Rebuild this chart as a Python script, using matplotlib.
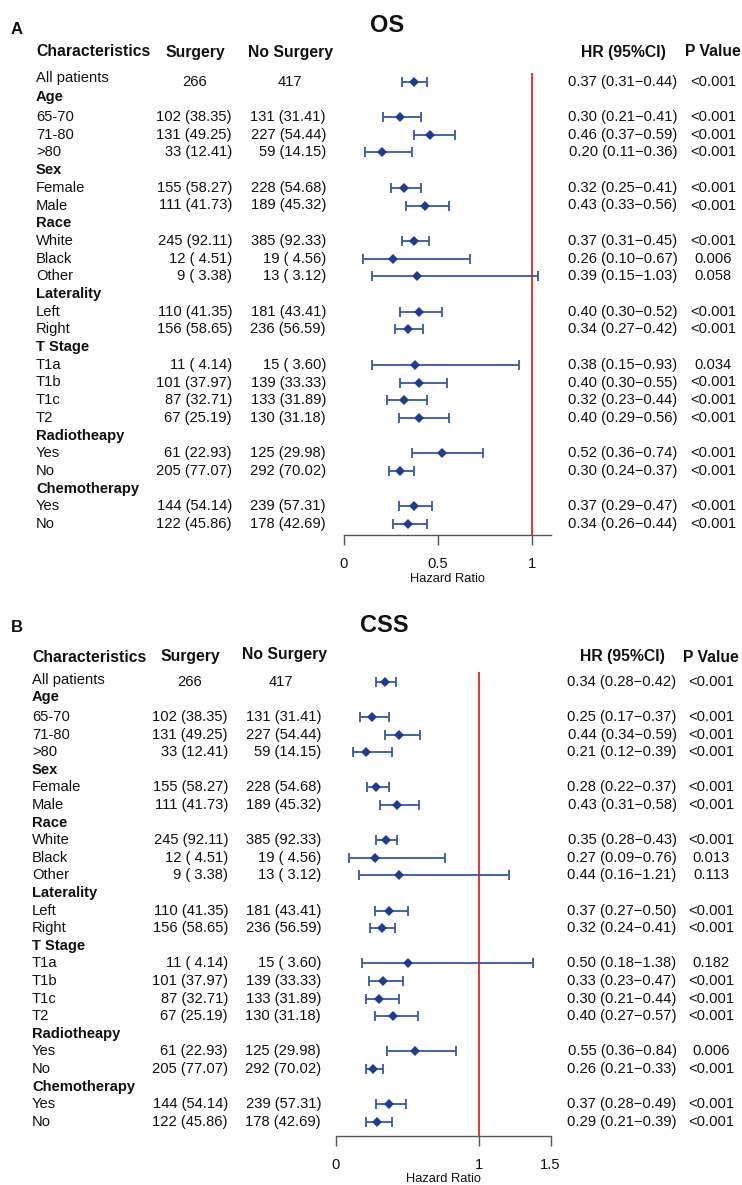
import matplotlib
matplotlib.use("Agg")
import matplotlib.pyplot as plt

plt.rcParams["font.family"] = ["Liberation Sans", "DejaVu Sans"]

# ---------------------------------------------------------------- data
groups = ["Age", "Sex", "Race", "Laterality", "T Stage", "Radiotheapy", "Chemotherapy"]
subgroups = [["65-70", "71-80", ">80"], ["Female", "Male"], ["White", "Black", "Other"],
             ["Left", "Right"], ["T1a", "T1b", "T1c", "T2"], ["Yes", "No"], ["Yes", "No"]]

total_surgery = 266
total_no_surgery = 417
surgery_n = [102, 131, 33, 155, 111, 245, 12, 9, 110, 156, 11, 101, 87, 67, 61, 205, 144, 122]
surgery_pct = [38.35, 49.25, 12.41, 58.27, 41.73, 92.11, 4.51, 3.38, 41.35, 58.65,
               4.14, 37.97, 32.71, 25.19, 22.93, 77.07, 54.14, 45.86]
no_surgery_n = [131, 227, 59, 228, 189, 385, 19, 13, 181, 236, 15, 139, 133, 130, 125, 292, 239, 178]
no_surgery_pct = [31.41, 54.44, 14.15, 54.68, 45.32, 92.33, 4.56, 3.12, 43.41, 56.59,
                  3.60, 33.33, 31.89, 31.18, 29.98, 70.02, 57.31, 42.69]

# first entry of each list is "All patients"
os_hr = [0.37, 0.30, 0.46, 0.20, 0.32, 0.43, 0.37, 0.26, 0.39, 0.40, 0.34,
         0.38, 0.40, 0.32, 0.40, 0.52, 0.30, 0.37, 0.34]
os_lo = [0.31, 0.21, 0.37, 0.11, 0.25, 0.33, 0.31, 0.10, 0.15, 0.30, 0.27,
         0.15, 0.30, 0.23, 0.29, 0.36, 0.24, 0.29, 0.26]
os_hi = [0.44, 0.41, 0.59, 0.36, 0.41, 0.56, 0.45, 0.67, 1.03, 0.52, 0.42,
         0.93, 0.55, 0.44, 0.56, 0.74, 0.37, 0.47, 0.44]
os_p = ["<0.001", "<0.001", "<0.001", "<0.001", "<0.001", "<0.001", "<0.001", "0.006", "0.058",
        "<0.001", "<0.001", "0.034", "<0.001", "<0.001", "<0.001", "<0.001", "<0.001", "<0.001", "<0.001"]

css_hr = [0.34, 0.25, 0.44, 0.21, 0.28, 0.43, 0.35, 0.27, 0.44, 0.37, 0.32,
          0.50, 0.33, 0.30, 0.40, 0.55, 0.26, 0.37, 0.29]
css_lo = [0.28, 0.17, 0.34, 0.12, 0.22, 0.31, 0.28, 0.09, 0.16, 0.27, 0.24,
          0.18, 0.23, 0.21, 0.27, 0.36, 0.21, 0.28, 0.21]
css_hi = [0.42, 0.37, 0.59, 0.39, 0.37, 0.58, 0.43, 0.76, 1.21, 0.50, 0.41,
          1.38, 0.47, 0.44, 0.57, 0.84, 0.33, 0.49, 0.39]
css_p = ["<0.001", "<0.001", "<0.001", "<0.001", "<0.001", "<0.001", "<0.001", "0.013", "0.113",
         "<0.001", "<0.001", "0.182", "<0.001", "<0.001", "<0.001", "0.006", "<0.001", "<0.001", "<0.001"]

os_ticks = [0, 0.5, 1]
css_ticks = [0, 1, 1.5]

# ---------------------------------------------------------------- style
W, H = 742, 1185
TXT = "#111111"
DIAMOND = "#1d3d95"
WHISKER = "#3656aa"
REF = "#e0262c"
AXIS = "#555555"
FS = 10.6

fig = plt.figure(figsize=(W / 100, H / 100), dpi=100)
canvas = fig.add_axes([0, 0, 1, 1])
canvas.set_xlim(0, W)
canvas.set_ylim(H, 0)
canvas.axis("off")


def px_axes(left, top, right, bottom):
    return fig.add_axes([left / W, 1 - bottom / H, (right - left) / W, (bottom - top) / H])


def fmt_count(n, pct):
    return f"{n} ({pct:5.2f})"


def panel(letter, title, hr, lo, hi, pvals, ticks, xmax, L):
    t = lambda x, y, s, **kw: canvas.text(x, y, s, color=TXT, **kw)
    t(L["letter_x"], L["letter_y"], letter, fontsize=12, fontweight="bold", ha="left", va="center")
    t(L["title_x"], L["title_y"], title, fontsize=17, fontweight="bold", ha="center", va="center")

    hy = L["head_y"]
    t(L["char_x"], hy, "Characteristics", fontsize=11.3, fontweight="bold", ha="left", va="center")
    t(L["surg_c"], hy, "Surgery", fontsize=11.3, fontweight="bold", ha="center", va="center")
    t(L["nos_c"], hy + L["nos_dy"], "No Surgery", fontsize=11.3, fontweight="bold", ha="center", va="center")
    t(L["hr_c"], hy, "HR (95%CI)", fontsize=11.3, fontweight="bold", ha="center", va="center")
    t(L["p_c"], hy, "P Value", fontsize=11.3, fontweight="bold", ha="center", va="center")

    # row positions (pixels) for the data rows, in data order
    row_y = [L["all_y"]]
    header_y = []
    r = 0
    for g, subs in enumerate(subgroups):
        header_y.append(L["first_header_y"] if g == 0 else L["row0"] + (r - 1) * L["step"])
        r += 1
        for _ in subs:
            row_y.append(L["row0"] + (r - 1) * L["step"])
            r += 1

    # left table
    t(L["char_x"], L["all_label_y"], "All patients", fontsize=FS, ha="left", va="center")
    t(L["surg_c"], L["all_y"], str(total_surgery), fontsize=FS, ha="center", va="center")
    t(L["nos_c2"], L["all_y"], str(total_no_surgery), fontsize=FS, ha="center", va="center")
    for g, name in enumerate(groups):
        t(L["char_x"], header_y[g], name, fontsize=FS, fontweight="bold", ha="left", va="center")
    labels = [s for subs in subgroups for s in subs]
    for i, lab in enumerate(labels):
        y = row_y[i + 1]
        t(L["char_x"], y, lab, fontsize=FS, ha="left", va="center")
        t(L["surg_r"], y, fmt_count(surgery_n[i], surgery_pct[i]), fontsize=FS, ha="right", va="center")
        t(L["nos_r"], y, fmt_count(no_surgery_n[i], no_surgery_pct[i]), fontsize=FS, ha="right", va="center")

    # right table
    for i, y in enumerate(row_y):
        t(L["hr_c"], y, f"{hr[i]:.2f} ({lo[i]:.2f}\u2212{hi[i]:.2f})", fontsize=FS, ha="center", va="center")
        t(L["p_c"], y, pvals[i], fontsize=FS, ha="center", va="center")

    # forest plot
    x0, scale = L["x0"], L["scale"]
    ax = px_axes(x0, L["ax_top"], x0 + xmax * scale, L["ax_bottom"])
    ax.set_xlim(0, xmax)
    ax.set_ylim(L["ax_bottom"], L["ax_top"])
    ax.patch.set_alpha(0)
    for s in ("top", "right", "left"):
        ax.spines[s].set_visible(False)
    ax.spines["bottom"].set_color(AXIS)
    ax.spines["bottom"].set_linewidth(1.0)
    ax.set_yticks([])
    ax.set_xticks(ticks)
    ax.set_xticklabels([f"{v:g}" for v in ticks])
    ax.tick_params(axis="x", direction="out", length=7, width=1.0, color=AXIS,
                   labelsize=FS, labelcolor=TXT, pad=9)

    ax.vlines(1, L["ref_top"], L["ax_bottom"], color=REF, lw=1.3, zorder=1)
    ax.errorbar(hr, row_y, xerr=[[h - l for h, l in zip(hr, lo)], [u - h for h, u in zip(hr, hi)]],
                fmt="none", ecolor=WHISKER, elinewidth=1.3, capsize=3.8, capthick=1.3, zorder=2)
    ax.plot(hr, row_y, "D", color=DIAMOND, ms=5.6, mew=0, zorder=3)

    canvas.text(x0 + xmax * scale / 2, L["hr_label_y"], "Hazard Ratio", fontsize=9.3,
                color=TXT, ha="center", va="center")


os_layout = dict(letter_x=11, letter_y=30, title_x=387, title_y=25, head_y=52, nos_dy=0,
                 char_x=36, surg_c=195, nos_c=290, nos_c2=290, surg_r=232, nos_r=326,
                 hr_c=623, p_c=713, all_y=82, all_label_y=78, first_header_y=97,
                 row0=117, step=17.7, x0=344, scale=188, ax_top=60, ax_bottom=535,
                 ref_top=73, hr_label_y=579)
css_layout = dict(letter_x=11, letter_y=628, title_x=384, title_y=625, head_y=657, nos_dy=-2,
                  char_x=32, surg_c=190, nos_c=284, nos_c2=281, surg_r=228, nos_r=321,
                  hr_c=622, p_c=711, all_y=682, all_label_y=680, first_header_y=697,
                  row0=717, step=17.6, x0=336, scale=143, ax_top=660, ax_bottom=1136,
                  ref_top=672, hr_label_y=1179)

panel("A", "OS", os_hr, os_lo, os_hi, os_p, os_ticks, 1.1, os_layout)
panel("B", "CSS", css_hr, css_lo, css_hi, css_p, css_ticks, 1.5, css_layout)

fig.savefig("out.png", dpi=100, facecolor="white")
